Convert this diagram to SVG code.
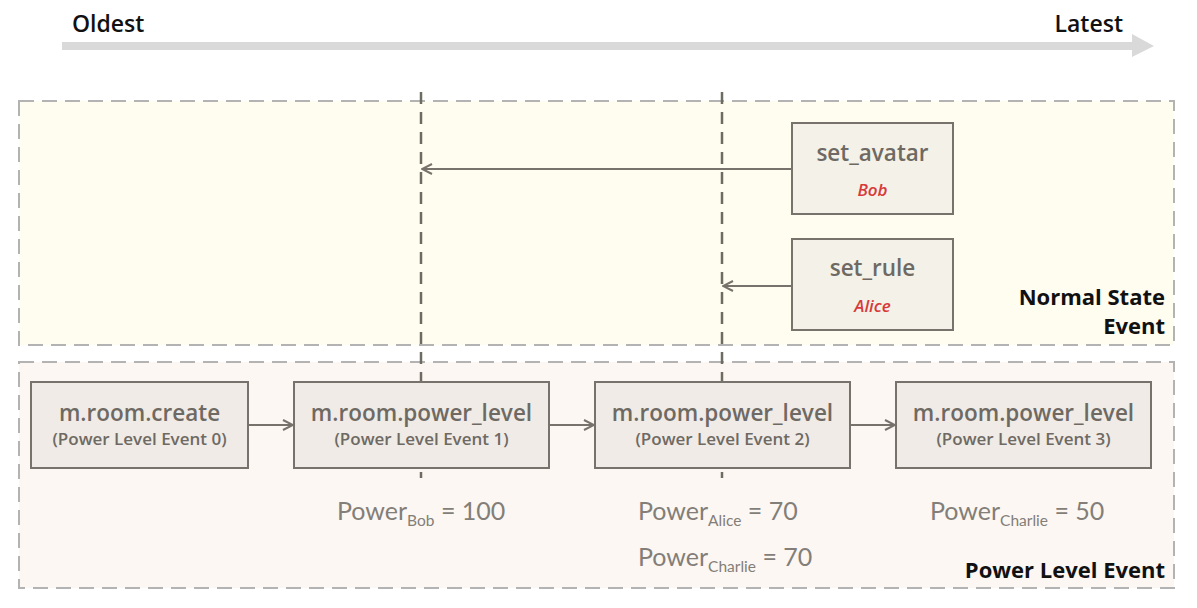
<svg xmlns="http://www.w3.org/2000/svg" width="1197" height="608" viewBox="0 0 1197 608">
<defs>
<style>
.grp{stroke:#b3b3b3;stroke-width:2;stroke-dasharray:15 8;}
.node{fill:#f0ebe6;stroke:#77726b;stroke-width:2;}
.snode{fill:#f3f1e8;stroke:#77726b;stroke-width:2;}
.t{font-family:"Open Sans","Noto Sans",sans-serif;fill:#6e6963;text-anchor:middle;font-weight:600;}
.title{font-size:22.5px;}
.sub{font-size:17px;}
.who{font-family:"Open Sans","Noto Sans",sans-serif;font-size:17px;font-weight:600;font-style:italic;fill:#d83a3a;text-anchor:middle;}
.lbl{font-family:"Open Sans","Noto Sans",sans-serif;font-weight:bold;font-size:22px;fill:#111;}
.pw{font-family:"Lato","Noto Sans",sans-serif;font-weight:400;font-size:25px;fill:#837e78;}
.pw tspan.s{font-size:15.5px;}
.vl{stroke:#6e6c62;stroke-width:2.5;stroke-dasharray:12 8;fill:none;}
.edge{stroke:#77726b;stroke-width:2;fill:none;marker-end:url(#ah);}
</style>
<marker id="ah" viewBox="0 0 12 12" refX="11" refY="6" markerWidth="12" markerHeight="12" markerUnits="userSpaceOnUse" orient="auto">
<path d="M1,1 L11,6 L1,11" fill="none" stroke="#77726b" stroke-width="2"/>
</marker>
</defs>
<rect width="1197" height="608" fill="#ffffff"/>
<g id="timeline">
<line x1="62" y1="46" x2="1134" y2="46" stroke="#d9d9d9" stroke-width="8"/>
<polygon points="1132,34 1154,46 1132,57" fill="#d9d9d9"/>
<text x="72" y="32" font-family="'Open Sans','Noto Sans',sans-serif" font-size="23" font-weight="600" fill="#111">Oldest</text>
<text x="1123" y="32" font-family="'Open Sans','Noto Sans',sans-serif" font-size="23" font-weight="600" fill="#111" text-anchor="end">Latest</text>
</g>
<g id="normal-state-group">
<rect x="19" y="101" width="1155" height="244" fill="#fffcf0" class="grp"/>
<text class="lbl" x="1165" y="305" text-anchor="end">Normal State</text>
<text class="lbl" x="1165" y="334" text-anchor="end">Event</text>
</g>
<g id="power-level-group">
<rect x="19" y="362" width="1155" height="226" fill="#fcf7f3" class="grp"/>
<text class="lbl" x="1165" y="578" text-anchor="end">Power Level Event</text>
</g>
<g id="guides">
<line class="vl" x1="421" y1="92" x2="421" y2="478"/>
<line class="vl" x1="722" y1="92" x2="722" y2="478"/>
</g>
<g id="connectors">
<line class="edge" x1="792" y1="169" x2="422" y2="169"/>
<line class="edge" x1="792" y1="286" x2="723" y2="286"/>
<line class="edge" x1="248" y1="425" x2="293" y2="425"/>
<line class="edge" x1="549" y1="425" x2="594" y2="425"/>
<line class="edge" x1="850" y1="425" x2="895" y2="425"/>
</g>
<g id="set_avatar">
<rect class="snode" x="792" y="123" width="161" height="91"/>
<text class="t title" x="872.5" y="161">set_avatar</text>
<text class="who" x="872.5" y="196">Bob</text>
</g>
<g id="set_rule">
<rect class="snode" x="792" y="239" width="161" height="91"/>
<text class="t title" x="872.5" y="276">set_rule</text>
<text class="who" x="872.5" y="312">Alice</text>
</g>
<g id="create">
<rect class="node" x="31" y="382" width="217" height="86"/>
<text class="t title" x="139.5" y="421">m.room.create</text>
<text class="t sub" x="139.5" y="445">(Power Level Event 0)</text>
</g>
<g id="pl1">
<rect class="node" x="294" y="382" width="255" height="86"/>
<text class="t title" x="421.5" y="421">m.room.power_level</text>
<text class="t sub" x="421.5" y="445">(Power Level Event 1)</text>
</g>
<g id="pl2">
<rect class="node" x="595" y="382" width="255" height="86"/>
<text class="t title" x="722.5" y="421">m.room.power_level</text>
<text class="t sub" x="722.5" y="445">(Power Level Event 2)</text>
</g>
<g id="pl3">
<rect class="node" x="896" y="382" width="255" height="86"/>
<text class="t title" x="1023.5" y="421">m.room.power_level</text>
<text class="t sub" x="1023.5" y="445">(Power Level Event 3)</text>
</g>
<g id="power-values">
<text class="pw" x="337" y="520">Power<tspan class="s" dy="6">Bob</tspan><tspan dy="-6"> = 100</tspan></text>
<text class="pw" x="638" y="520">Power<tspan class="s" dy="6">Alice</tspan><tspan dy="-6"> = 70</tspan></text>
<text class="pw" x="638" y="566">Power<tspan class="s" dy="6">Charlie</tspan><tspan dy="-6"> = 70</tspan></text>
<text class="pw" x="930" y="520">Power<tspan class="s" dy="6">Charlie</tspan><tspan dy="-6"> = 50</tspan></text>
</g>
</svg>
